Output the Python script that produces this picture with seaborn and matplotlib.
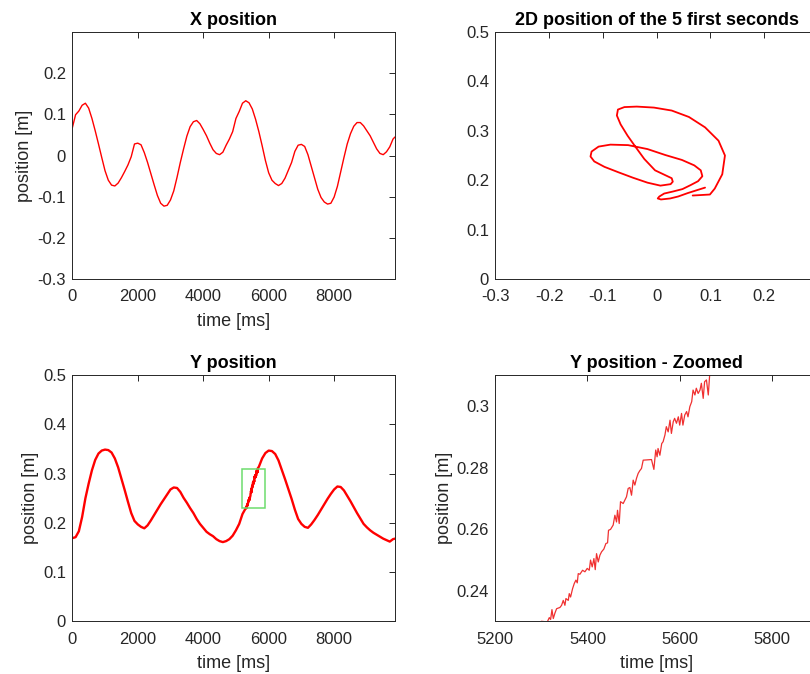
import numpy as np
import pandas as pd
import matplotlib
matplotlib.use("Agg")
import matplotlib.pyplot as plt
from matplotlib.patches import Rectangle
from matplotlib.ticker import FuncFormatter
import seaborn as sns

# ---- recorded hand position, sampled every 100 ms (last sample at 9860 ms) ----
time_ms = np.append(np.arange(0, 9900, 100), 9860)

x_pos = [0.067, 0.099, 0.108, 0.122, 0.127, 0.115, 0.090, 0.060, 0.028, -0.005,
         -0.037, -0.060, -0.072, -0.074, -0.067, -0.054, -0.039, -0.023, -0.003, 0.028,
         0.030, 0.026, 0.007, -0.017, -0.044, -0.071, -0.097, -0.116, -0.123, -0.121,
         -0.108, -0.086, -0.053, -0.017, 0.016, 0.047, 0.070, 0.082, 0.085, 0.077,
         0.063, 0.048, 0.030, 0.014, 0.005, 0.002, 0.008, 0.025, 0.040, 0.058,
         0.090, 0.107, 0.127, 0.133, 0.128, 0.113, 0.088, 0.058, 0.024, -0.012,
         -0.042, -0.060, -0.068, -0.073, -0.068, -0.055, -0.036, -0.017, 0.010, 0.025,
         0.027, 0.022, 0.002, -0.026, -0.054, -0.082, -0.102, -0.113, -0.118, -0.116,
         -0.101, -0.075, -0.040, -0.005, 0.028, 0.053, 0.071, 0.080, 0.080, 0.072,
         0.060, 0.048, 0.032, 0.016, 0.005, 0.002, 0.009, 0.021, 0.040, 0.045]

y_pos = [0.169, 0.171, 0.183, 0.212, 0.250, 0.280, 0.307, 0.328, 0.341, 0.347,
         0.349, 0.348, 0.343, 0.331, 0.313, 0.290, 0.267, 0.243, 0.220, 0.204,
         0.197, 0.192, 0.189, 0.195, 0.205, 0.216, 0.227, 0.238, 0.248, 0.258,
         0.268, 0.272, 0.271, 0.263, 0.251, 0.241, 0.230, 0.220, 0.208, 0.198,
         0.190, 0.182, 0.177, 0.173, 0.167, 0.163, 0.161, 0.163, 0.167, 0.174,
         0.185, 0.198, 0.218, 0.230, 0.248, 0.272, 0.295, 0.314, 0.331, 0.342,
         0.347, 0.346, 0.340, 0.327, 0.308, 0.289, 0.269, 0.249, 0.227, 0.208,
         0.198, 0.192, 0.190, 0.197, 0.206, 0.216, 0.227, 0.238, 0.249, 0.259,
         0.268, 0.274, 0.273, 0.266, 0.255, 0.244, 0.232, 0.220, 0.209, 0.198,
         0.191, 0.185, 0.180, 0.176, 0.172, 0.168, 0.165, 0.162, 0.167, 0.168]

# ---- full-rate Y samples on the rising flank around 5.3 - 5.7 s ----
fine_t = [5312.8, 5317.1, 5320.0, 5322.9, 5325.8, 5329.4, 5333.0, 5340.2, 5343.8, 5347.4,
          5351.0, 5353.2, 5358.3, 5360.4, 5363.3, 5367.6, 5371.3, 5374.9, 5377.8, 5379.9,
          5383.5, 5389.3, 5394.4, 5399.4, 5403.8, 5406.6, 5410.2, 5413.9, 5416.8, 5419.6,
          5423.3, 5426.9, 5430.5, 5435.5, 5439.9, 5443.5, 5445.6, 5450.0, 5455.7, 5459.4,
          5463.0, 5465.1, 5468.8, 5471.6, 5477.4, 5484.6, 5488.2, 5491.9, 5495.5, 5499.1,
          5502.7, 5506.3, 5509.9, 5513.5, 5517.1, 5520.8, 5538.8, 5544.0, 5548.0, 5551.0,
          5553.0, 5557.0, 5561.0, 5564.0, 5568.0, 5571.0, 5575.0, 5579.0, 5582.0, 5586.0,
          5589.0, 5593.0, 5597.0, 5600.0, 5604.0, 5607.0, 5611.0, 5615.0, 5618.0, 5622.0,
          5626.0, 5629.0, 5633.0, 5636.0, 5640.0, 5644.0, 5647.0, 5651.0, 5654.0, 5658.0,
          5662.0, 5665.0, 5669.0]
fine_y = [0.2298, 0.2312, 0.2306, 0.2338, 0.2309, 0.2327, 0.2341, 0.2345, 0.2352, 0.2368,
          0.2352, 0.2374, 0.2368, 0.2390, 0.2379, 0.2406, 0.2423, 0.2434, 0.2425, 0.2455,
          0.2453, 0.2466, 0.2461, 0.2472, 0.2466, 0.2499, 0.2477, 0.2504, 0.2468, 0.2520,
          0.2493, 0.2515, 0.2526, 0.2535, 0.2553, 0.2555, 0.2596, 0.2599, 0.2613, 0.2645,
          0.2623, 0.2661, 0.2618, 0.2689, 0.2683, 0.2705, 0.2732, 0.2735, 0.2710, 0.2759,
          0.2743, 0.2765, 0.2781, 0.2790, 0.2797, 0.2824, 0.2826, 0.2794, 0.2857, 0.2835,
          0.2862, 0.2840, 0.2878, 0.2884, 0.2906, 0.2933, 0.2916, 0.2954, 0.2911, 0.2949,
          0.2960, 0.2944, 0.2965, 0.2938, 0.2976, 0.2938, 0.2971, 0.2982, 0.2965, 0.2998,
          0.3014, 0.3052, 0.3036, 0.3058, 0.3041, 0.3052, 0.3074, 0.3025, 0.3079, 0.3085,
          0.3036, 0.3101, 0.3112]

zoom_xlim = (5200, 5900)
zoom_ylim = (0.23, 0.31)
first_seconds_ms = 5000

# ---- assemble data frames ----
df_x = pd.DataFrame({"t": time_ms, "pos": x_pos})
coarse = pd.DataFrame({"t": time_ms, "pos": y_pos})
keep = (coarse["t"] < min(fine_t)) | (coarse["t"] > max(fine_t))
df_y = pd.concat([coarse[keep], pd.DataFrame({"t": fine_t, "pos": fine_y})])
df_y = df_y.sort_values("t").reset_index(drop=True)
first = time_ms <= first_seconds_ms
df_2d = pd.DataFrame({"x": np.asarray(x_pos)[first], "y": np.asarray(y_pos)[first]})

# ---- style ----
sns.set_theme(style="white")
plt.rcParams.update({
    "font.family": ["Liberation Sans", "DejaVu Sans"],
    "axes.unicode_minus": False,
    "axes.edgecolor": "#262626",
    "axes.linewidth": 0.7,
    "xtick.color": "#262626",
    "ytick.color": "#262626",
    "axes.labelcolor": "#262626",
})

fig = plt.figure(figsize=(8.10, 6.74), dpi=100)
W, H = 810, 674


def add_axes(left, top, width, height):
    return fig.add_axes([left / W, 1 - (top + height) / H, width / W, height / H])


ax_x = add_axes(72.3, 32.0, 322.7, 247.0)
ax_2d = add_axes(495.3, 32.0, 322.7, 247.0)
ax_y = add_axes(72.3, 375.3, 322.7, 246.0)
ax_z = add_axes(495.3, 375.3, 322.7, 246.0)

red = "#ff0000"
sns.lineplot(data=df_x, x="t", y="pos", ax=ax_x, color=red, lw=1.0,
             estimator=None, sort=False)
sns.lineplot(data=df_2d, x="x", y="y", ax=ax_2d, color=red, lw=1.3,
             estimator=None, sort=False)
sns.lineplot(data=df_y, x="t", y="pos", ax=ax_y, color=red, lw=1.7,
             estimator=None, sort=False)
sns.lineplot(data=df_y, x="t", y="pos", ax=ax_z, color="#f03030", lw=0.9,
             estimator=None, sort=False)

# zoom window marker
ax_y.add_patch(Rectangle((zoom_xlim[0], zoom_ylim[0]),
                         zoom_xlim[1] - zoom_xlim[0], zoom_ylim[1] - zoom_ylim[0],
                         fill=False, edgecolor="#6ddc6d", lw=1.1, zorder=3))

fmt = FuncFormatter(lambda v, p: f"{v:g}" if abs(v) > 1e-12 else "0")

ax_x.set(xlim=(0, 9860), ylim=(-0.3, 0.3))
ax_x.set_xticks([0, 2000, 4000, 6000, 8000])
ax_x.set_yticks([-0.3, -0.2, -0.1, 0, 0.1, 0.2])

ax_2d.set(xlim=(-0.3, 0.3), ylim=(0, 0.5))
ax_2d.set_xticks([-0.3, -0.2, -0.1, 0, 0.1, 0.2])
ax_2d.set_yticks([0, 0.1, 0.2, 0.3, 0.4, 0.5])

ax_y.set(xlim=(0, 9860), ylim=(0, 0.5))
ax_y.set_xticks([0, 2000, 4000, 6000, 8000])
ax_y.set_yticks([0, 0.1, 0.2, 0.3, 0.4, 0.5])

ax_z.set(xlim=zoom_xlim, ylim=zoom_ylim)
ax_z.set_xticks([5200, 5400, 5600, 5800])
ax_z.set_yticks([0.24, 0.26, 0.28, 0.30])

titles = {ax_x: "X position", ax_2d: "2D position of the 5 first seconds",
          ax_y: "Y position", ax_z: "Y position - Zoomed"}

for ax, title in titles.items():
    ax.set_title(title, fontsize=13, fontweight="bold", color="black", pad=5)
    ax.xaxis.set_major_formatter(fmt)
    ax.yaxis.set_major_formatter(fmt)
    ax.tick_params(direction="in", top=True, right=True, length=4, width=0.7,
                   labelsize=12)
    ax.tick_params(axis="x", pad=7.5)
    ax.tick_params(axis="y", pad=4.5)
    for s in ax.spines.values():
        s.set_visible(True)
        s.set_color("#262626")
        s.set_linewidth(0.7)
    ax.set_xlabel("")
    ax.set_ylabel("")

for ax in (ax_x, ax_y, ax_z):
    ax.set_xlabel("time [ms]", fontsize=13, labelpad=6)
    ax.set_ylabel("position [m]", fontsize=13, labelpad=3)

fig.savefig("out.png", dpi=100, facecolor="white")
